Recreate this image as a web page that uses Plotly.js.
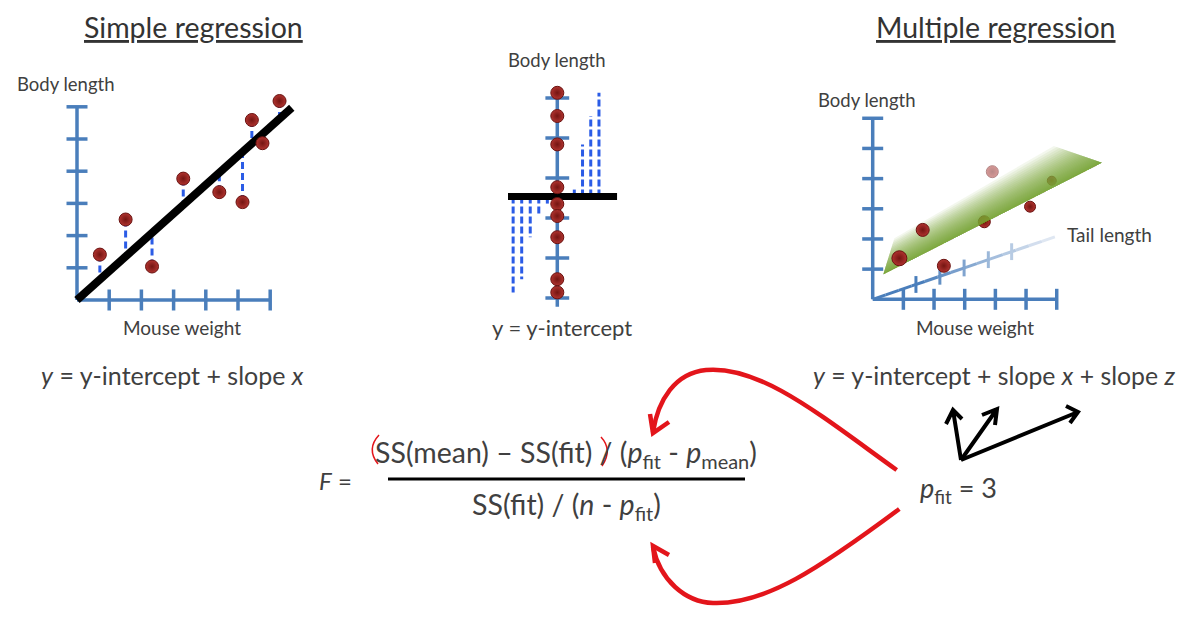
<!DOCTYPE html>
<html><head><meta charset="utf-8">
<script src="https://cdn.plot.ly/plotly-3.0.1.min.js"></script>
<style>html,body{margin:0;padding:0;background:#fff}</style>
</head><body><div id="chart" style="width:1197px;height:624px"></div>
<script>
// ---------------- data ----------------
// Simple regression: mouse weight vs body length
const simpleWeight = [0.71, 1.51, 2.33, 3.30, 4.42, 5.14, 5.43, 5.76, 6.29];
const simpleLength = [1.41, 2.50, 1.04, 3.77, 3.35, 3.04, 5.59, 4.87, 6.18];
const simpleFitIntercept = 0;
const simpleFitSlope = 0.895;
const simpleFitMaxWeight = 6.67;
const axisTicks = [1, 2, 3, 4, 5, 6];

// Intercept-only model: body length values
const interceptLength = [5.13, 4.55, 3.84, 2.77, 2.35, 2.05, 1.52, 0.47, 0.14];
const interceptTicks = [0, 1, 2, 3, 4, 5];

// Multiple regression (projected view)
const multiWeight = [0.87, 1.63, 2.32, 3.64, 3.90, 5.13, 5.84];
const multiLength = [1.36, 2.30, 1.11, 2.57, 4.23, 3.07, 3.93];
const multiInFront = [true, true, true, false, true, true, false];
const planeLowerWeight = [0.35, 7.47];
const planeLowerLength = [0.83, 4.53];
const planeUpperWeight = [0.66, 6.11];
const planeUpperLength = [1.87, 5.01];
const tailAxisEnd = [5.94, 2.07];
const tailTickWeight = [1.41, 2.19, 2.98, 3.77, 4.53];

// ---------------- layout helpers ----------------
const W = 1197, H = 624;
const FONT = 'Lato, "Open Sans", sans-serif';
const TXT = '#404040';
const BLUE = '#4a7ebb';
const RED = '#e3151b';
const PT = '#b0332f', PT_EDGE = '#741512';

function xAx(origin, ppu, d0, d1, anchor) {
  return {domain: [d0 / W, d1 / W], range: [(d0 - origin) / ppu, (d1 - origin) / ppu], visible: false, anchor: anchor, fixedrange: true};
}
function yAx(origin, ppu, top, bottom, anchor) {
  return {domain: [1 - bottom / H, 1 - top / H], range: [(origin - bottom) / ppu, (origin - top) / ppu], visible: false, anchor: anchor, fixedrange: true};
}

const traces = [];
function base(ax) { return {type: 'scatter', xaxis: ax[0], yaxis: ax[1], hoverinfo: 'skip', showlegend: false, cliponaxis: false}; }
function lineTrace(xs, ys, ax, color, width, dash) {
  traces.push(Object.assign(base(ax), {mode: 'lines', x: xs, y: ys, line: {color: color, width: width, dash: dash || 'solid'}}));
}
function tickTrace(xs, ys, ax, sym, size, color, width) {
  traces.push(Object.assign(base(ax), {mode: 'markers', x: xs, y: ys,
    marker: {symbol: sym, size: size, color: color, line: {color: color, width: width || 3.5}}}));
}
function pointTrace(xs, ys, ax, size, opacity) {
  traces.push(Object.assign(base(ax), {mode: 'markers', x: xs, y: ys,
    marker: {size: size, color: PT, opacity: opacity, gradient: {type: 'radial', color: PT_EDGE}, line: {color: '#6a1210', width: 1}}}));
}

// ---------------- chart 1: simple regression ----------------
const A1 = ['x', 'y'];
const top1 = Math.max(...axisTicks);
lineTrace([0, 0], [0, top1], A1, BLUE, 3.5);
lineTrace([0, top1], [0, 0], A1, BLUE, 3.5);
tickTrace(axisTicks.map(() => 0), axisTicks, A1, 'line-ew', 15, BLUE);
tickTrace(axisTicks, axisTicks.map(() => 0), A1, 'line-ns', 15, BLUE);
const rx = [], ry = [];
simpleWeight.forEach((w, i) => { rx.push(w, w, null); ry.push(simpleLength[i], simpleFitIntercept + simpleFitSlope * w, null); });
lineTrace(rx, ry, A1, '#2b5ce6', 3, '7px,4px');
lineTrace([0, simpleFitMaxWeight], [simpleFitIntercept, simpleFitIntercept + simpleFitSlope * simpleFitMaxWeight], A1, '#000', 8);
pointTrace(simpleWeight, simpleLength, A1, 13, 1);

// ---------------- chart 2: intercept only ----------------
const A2 = ['x2', 'y2'];
const meanLen = interceptLength.reduce((a, b) => a + b, 0) / interceptLength.length;
lineTrace([0, 0], [-0.22, 5.25], A2, BLUE, 3.5);
tickTrace(interceptTicks.map(() => 0), interceptTicks, A2, 'line-ew', 17, BLUE);
const below = interceptLength.filter(v => v < meanLen).sort((a, b) => b - a);
const above = interceptLength.filter(v => v >= meanLen).sort((a, b) => a - b);
const bx = [], by = [];
below.forEach((v, i) => { const x = -(1.2 + 1.03 * i); bx.push(x, x, null); by.push(meanLen, v, null); });
above.forEach((v, i) => { const x = 2.05 + 0.99 * i; bx.push(x, x, null); by.push(meanLen, v, null); });
lineTrace(bx, by, A2, '#2b5ce6', 3, '7px,3px');
lineTrace([-5.94, 7.2], [meanLen, meanLen], A2, '#000', 7);
pointTrace(interceptLength.map(() => 0), interceptLength, A2, 13, 1);

// ---------------- chart 3: multiple regression ----------------
const A3 = ['x3', 'y3'];
lineTrace([0, 0], [0, top1], A3, BLUE, 3.5);
lineTrace([0, top1], [0, 0], A3, BLUE, 3.5);
tickTrace(axisTicks.map(() => 0), axisTicks, A3, 'line-ew', 15, BLUE);
tickTrace(axisTicks, axisTicks.map(() => 0), A3, 'line-ns', 15, BLUE);
// tail-length axis, fading out
function mix(c1, c2, t) {
  const a = [1, 3, 5].map(i => parseInt(c1.substr(i, 2), 16)), b = [1, 3, 5].map(i => parseInt(c2.substr(i, 2), 16));
  return 'rgb(' + a.map((v, i) => Math.round(v + (b[i] - v) * t)).join(',') + ')';
}
function fadeAt(frac) { return mix(BLUE, '#dfe7f2', Math.min(1, Math.max(0, (frac - 0.25) / 0.7))); }
const tailSlope = tailAxisEnd[1] / tailAxisEnd[0];
const nSeg = 14;
for (let k = 0; k < nSeg; k++) {
  const x0 = tailAxisEnd[0] * k / nSeg, x1 = tailAxisEnd[0] * (k + 1) / nSeg;
  lineTrace([x0, x1], [x0 * tailSlope, x1 * tailSlope], A3, fadeAt((k + 0.5) / nSeg), 3);
}
tailTickWeight.forEach(w => tickTrace([w], [w * tailSlope], A3, 'line-ns', 12, fadeAt(w / tailAxisEnd[0]), 3));
// points behind plane
const behind = multiWeight.map((_, i) => i).filter(i => !multiInFront[i]);
const front = multiWeight.map((_, i) => i).filter(i => multiInFront[i]);
const multiSize = [15, 13, 13, 12, 12, 11, 9];
const multiOpacity = [1, 1, 1, 1, 0.5, 1, 0.9];
pointTrace(behind.map(i => multiWeight[i]), behind.map(i => multiLength[i]), A3, behind.map(i => multiSize[i]), behind.map(i => multiOpacity[i]));
// fitted plane as gradient band (stacked translucent layers, fading upwards)
const nLayers = 32;
for (let k = 1; k <= nLayers; k++) {
  const f = 1.15 * Math.pow(k / nLayers, 2);
  const xs = [planeLowerWeight[0], planeLowerWeight[1],
    planeLowerWeight[1] + f * (planeUpperWeight[1] - planeLowerWeight[1]),
    planeLowerWeight[0] + f * (planeUpperWeight[0] - planeLowerWeight[0]), planeLowerWeight[0]];
  const ys = [planeLowerLength[0], planeLowerLength[1],
    planeLowerLength[1] + f * (planeUpperLength[1] - planeLowerLength[1]),
    planeLowerLength[0] + f * (planeUpperLength[0] - planeLowerLength[0]), planeLowerLength[0]];
  traces.push(Object.assign(base(A3), {mode: 'lines', x: xs, y: ys, fill: 'toself',
    fillcolor: 'rgba(118,168,58,0.09)', line: {width: 0, color: 'rgba(0,0,0,0)'}}));
}
pointTrace(front.map(i => multiWeight[i]), front.map(i => multiLength[i]), A3, front.map(i => multiSize[i]), front.map(i => multiOpacity[i]));

// overlay (pixel) axes for decorations
traces.push(Object.assign(base(['x4', 'y4']), {mode: 'markers', x: [null], y: [null]}));

// ---------------- annotations ----------------
function txt(x, y, text, size, color) {
  return {xref: 'x4', yref: 'y4', x: x, y: y, text: text, showarrow: false,
    xanchor: 'center', yanchor: 'middle', font: {family: FONT, size: size, color: color || TXT}};
}
const annotations = [
  txt(193, 27, '<u>Simple regression</u>', 28.5, '#333'),
  txt(996, 27, '<u>Multiple regression</u>', 28.5, '#333'),
  txt(66, 84, 'Body length', 18.5),
  txt(182, 327, 'Mouse weight', 19),
  txt(172, 375, '<i>y</i> = y-intercept + slope <i>x</i>', 25),
  txt(557, 60, 'Body length', 18.5),
  txt(562, 327, 'y = y-intercept', 22),
  txt(867, 100, 'Body length', 18.5),
  txt(975, 327, 'Mouse weight', 19),
  txt(1109, 234, 'Tail length', 19),
  txt(994, 375, '<i>y</i> = y-intercept + slope <i>x</i> + slope <i>z</i>', 24.8),
  txt(335, 480, '<i>F</i> =', 24),
  txt(566, 454, 'SS(mean) – SS(fit) / (<i>p</i><sub>fit</sub> - <i>p</i><sub>mean</sub>)', 28.5),
  txt(566, 506, 'SS(fit) / (<i>n</i> - <i>p</i><sub>fit</sub>)', 28.5),
  txt(958, 489, '<i>p</i><sub>fit</sub> = 3', 27)
];

// ---------------- shapes ----------------
function path(d, color, width) {
  return {type: 'path', xref: 'x4', yref: 'y4', path: d, line: {color: color, width: width}, layer: 'above'};
}
const shapes = [
  // fraction bar
  {type: 'line', xref: 'x4', yref: 'y4', x0: 388, x1: 745, y0: 479, y1: 479, line: {color: '#000', width: 3}},
  // red hand-drawn brackets
  path('M 379,435 Q 366,449 378,464', RED, 1.5),
  path('M 601,437 Q 613,450 602,466', RED, 1.5),
  // red curved arrows
  path('M 896.7,470 C 820,415 760,365 706,370 C 675,373 658,400 653,432', RED, 4.5),
  path('M 650,414 L 653,433 L 669,422', RED, 4.5),
  path('M 899.3,509 C 820,568 765,605 713,603 C 685,602 660,580 653,547', RED, 4.5),
  path('M 655,563 L 653,546 L 669,555', RED, 4.5),
  // black arrows (degrees of freedom)
  path('M 961,460 L 953,410 M 946,424 L 953,410 L 962,419', '#000', 4),
  path('M 961,460 L 997,409 M 982,415 L 997,409 L 995,425', '#000', 4),
  path('M 961,460 L 1078,412 M 1066,406 L 1078,412 L 1070,423', '#000', 4)
];

const layout = {
  width: W, height: H, margin: {l: 0, r: 0, t: 0, b: 0, pad: 0},
  paper_bgcolor: '#fff', plot_bgcolor: 'rgba(0,0,0,0)', showlegend: false,
  xaxis: xAx(77, 32.2, 30, 320, 'y'), yaxis: yAx(300, 32.2, 80, 320, 'x'),
  xaxis2: xAx(557.3, 8.3, 490, 630, 'y2'), yaxis2: yAx(298, 40, 70, 320, 'x2'),
  xaxis3: xAx(872.7, 30.67, 840, 1120, 'y3'), yaxis3: yAx(299.3, 30.17, 100, 320, 'x3'),
  xaxis4: {domain: [0, 1], range: [0, W], visible: false, anchor: 'y4', fixedrange: true},
  yaxis4: {domain: [0, 1], range: [H, 0], visible: false, anchor: 'x4', fixedrange: true},
  annotations: annotations, shapes: shapes
};
Plotly.newPlot('chart', traces, layout, {staticPlot: true, displayModeBar: false});
</script></body></html>
